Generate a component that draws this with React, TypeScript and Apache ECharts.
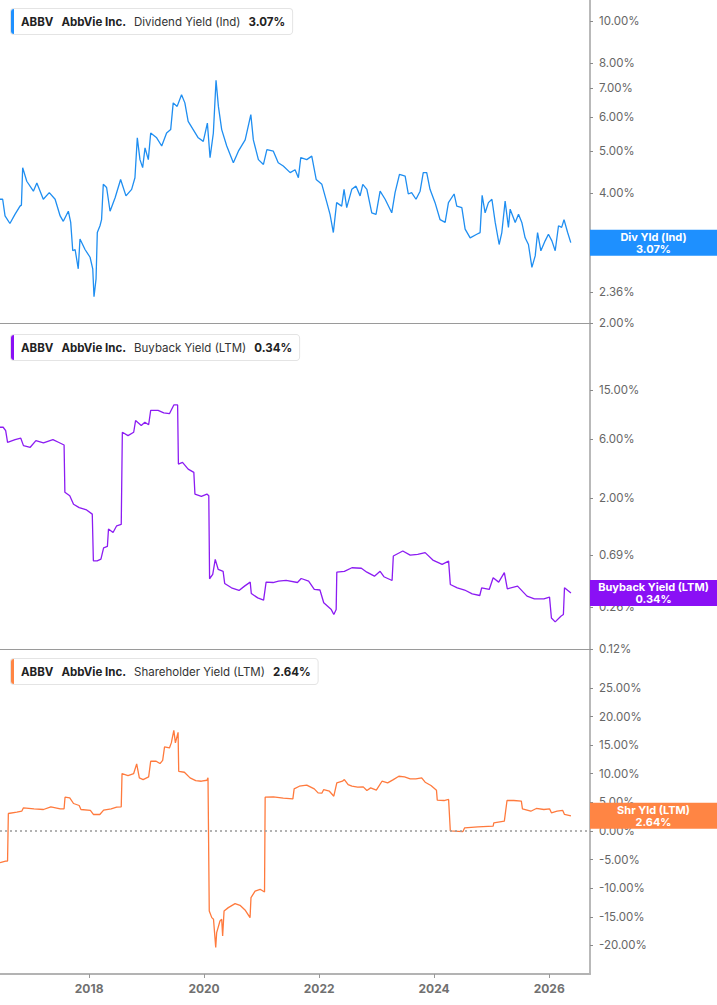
import React, { useEffect, useRef } from 'react';
import * as echarts from 'echarts';

const ticker = 'ABBV';
const company = 'AbbVie Inc.';
const panelTitles = ['Dividend Yield (Ind)', 'Buyback Yield (LTM)', 'Shareholder Yield (LTM)'];
const panelLast = [3.07, 0.34, 2.64];
const endTags = ['Div Yld (Ind)', 'Buyback Yield (LTM)', 'Shr Yld (LTM)'];
const yearTicks = [2018, 2020, 2022, 2024, 2026];
const divTicks = [2, 2.36, 3, 4, 5, 6, 7, 8, 10];
const buybackTicks = [0.12, 0.26, 0.69, 2, 6, 15];
const shrTicks = [-20, -15, -10, -5, 0, 5, 10, 15, 20, 25];

const divYield: [string, number][] = [
  ['2016-06-14', 3.87], ['2016-07-01', 3.87], ['2016-07-16', 3.54], ['2016-08-16', 3.40], ['2016-09-17', 3.57], ['2016-10-19', 3.73], ['2016-10-28', 3.75], ['2016-11-05', 4.58], ['2016-12-01', 4.26], ['2017-01-12', 4.04], ['2017-02-03', 4.22], ['2017-03-16', 3.87], ['2017-04-23', 4.01], ['2017-05-30', 3.87], ['2017-07-01', 3.54], ['2017-07-21', 3.44], ['2017-08-22', 3.63], ['2017-09-06', 3.42], ['2017-09-19', 2.94], ['2017-10-04', 2.96], ['2017-10-24', 2.67], ['2017-11-04', 3.13], ['2017-12-06', 2.96], ['2018-01-07', 2.84], ['2018-01-24', 2.67], ['2018-02-01', 2.30], ['2018-02-14', 2.53], ['2018-02-22', 3.24], ['2018-03-11', 3.36], ['2018-03-21', 3.47], ['2018-04-01', 4.19], ['2018-04-22', 4.12], ['2018-05-14', 3.63], ['2018-06-15', 3.90], ['2018-07-20', 4.30], ['2018-08-23', 3.94], ['2018-09-28', 4.08], ['2018-10-19', 4.34], ['2018-11-03', 5.37], ['2018-11-20', 4.78], ['2018-12-07', 4.58], ['2018-12-22', 5.09], ['2019-01-12', 4.78], ['2019-01-27', 5.51], ['2019-03-06', 5.37], ['2019-04-07', 5.14], ['2019-05-08', 5.51], ['2019-06-03', 5.61], ['2019-06-19', 6.47], ['2019-07-14', 6.35], ['2019-08-11', 6.76], ['2019-09-01', 6.47], ['2019-09-22', 5.86], ['2019-10-24', 5.61], ['2019-11-25', 5.37], ['2019-12-27', 5.27], ['2020-01-22', 5.81], ['2020-02-08', 4.83], ['2020-02-29', 5.51], ['2020-03-17', 7.30], ['2020-04-01', 6.35], ['2020-04-22', 5.61], ['2020-05-24', 5.14], ['2020-07-05', 4.70], ['2020-08-06', 5.00], ['2020-09-18', 5.31], ['2020-10-24', 6.08], ['2020-11-09', 5.31], ['2020-12-11', 4.78], ['2021-01-12', 4.66], ['2021-02-03', 5.04], ['2021-03-16', 5.00], ['2021-04-16', 4.70], ['2021-05-18', 4.62], ['2021-07-01', 4.46], ['2021-08-01', 4.53], ['2021-08-22', 4.34], ['2021-09-06', 4.83], ['2021-10-14', 4.78], ['2021-11-15', 4.87], ['2021-12-13', 4.30], ['2022-01-18', 4.19], ['2022-02-19', 3.80], ['2022-03-11', 3.57], ['2022-04-01', 3.24], ['2022-04-22', 3.80], ['2022-05-24', 3.73], ['2022-06-08', 4.08], ['2022-06-25', 3.70], ['2022-07-27', 4.08], ['2022-08-23', 4.15], ['2022-09-18', 3.94], ['2022-10-05', 4.19], ['2022-10-31', 4.08], ['2022-12-01', 3.60], ['2022-12-28', 3.57], ['2023-01-23', 4.04], ['2023-02-24', 3.87], ['2023-04-07', 3.60], ['2023-04-28', 4.01], ['2023-05-26', 4.42], ['2023-07-01', 4.38], ['2023-07-21', 3.98], ['2023-08-11', 4.01], ['2023-09-08', 3.87], ['2023-10-04', 4.04], ['2023-10-24', 4.46], ['2023-11-15', 4.46], ['2023-12-06', 4.08], ['2024-01-07', 3.80], ['2024-02-08', 3.47], ['2024-03-11', 3.42], ['2024-04-01', 3.80], ['2024-05-07', 3.98], ['2024-05-24', 3.73], ['2024-06-25', 3.70], ['2024-07-16', 3.30], ['2024-08-17', 3.15], ['2024-09-28', 3.21], ['2024-10-19', 3.24], ['2024-11-01', 3.95], ['2024-11-20', 3.60], ['2024-12-11', 3.80], ['2025-01-02', 3.87], ['2025-01-23', 3.42], ['2025-02-17', 3.04], ['2025-03-06', 3.24], ['2025-03-27', 3.83], ['2025-04-17', 3.33], ['2025-04-28', 3.67], ['2025-05-30', 3.42], ['2025-06-20', 3.57], ['2025-07-11', 3.42], ['2025-08-01', 3.15], ['2025-08-22', 3.04], ['2025-09-13', 2.69], ['2025-10-04', 2.86], ['2025-10-19', 3.24], ['2025-11-09', 2.94], ['2025-12-06', 3.10], ['2025-12-27', 3.21], ['2026-01-18', 3.10], ['2026-02-08', 2.94], ['2026-03-01', 3.36], ['2026-03-21', 3.33], ['2026-04-05', 3.47], ['2026-04-28', 3.24], ['2026-05-18', 3.07],
];

const buybackYield: [string, number][] = [
  ['2016-06-14', 7.46], ['2016-07-04', 7.46], ['2016-07-20', 7.01], ['2016-08-01', 5.64], ['2016-09-18', 5.93], ['2016-10-24', 6.08], ['2016-11-10', 5.30], ['2016-12-23', 5.14], ['2017-01-28', 5.81], ['2017-03-17', 5.57], ['2017-05-16', 5.93], ['2017-06-20', 5.64], ['2017-07-26', 5.36], ['2017-07-31', 2.22], ['2017-08-31', 2.08], ['2017-09-24', 1.78], ['2017-10-30', 1.67], ['2017-12-16', 1.60], ['2018-01-21', 1.48], ['2018-01-28', 0.62], ['2018-02-21', 0.62], ['2018-03-17', 0.64], ['2018-04-03', 0.79], ['2018-04-27', 0.81], ['2018-05-04', 1.12], ['2018-06-02', 1.05], ['2018-06-25', 1.19], ['2018-07-24', 1.22], ['2018-07-31', 6.80], ['2018-09-05', 6.39], ['2018-10-11', 6.80], ['2018-10-23', 8.45], ['2018-11-28', 7.70], ['2018-12-21', 8.20], ['2019-01-14', 7.82], ['2019-01-27', 10.2], ['2019-03-15', 10.2], ['2019-04-20', 9.76], ['2019-05-26', 9.6], ['2019-06-23', 11.3], ['2019-07-17', 11.3], ['2019-07-22', 3.76], ['2019-08-17', 3.88], ['2019-09-22', 3.42], ['2019-10-28', 3.22], ['2019-11-04', 2.15], ['2019-12-15', 2.06], ['2020-01-19', 2.15], ['2020-01-31', 2.08], ['2020-02-05', 0.444], ['2020-02-25', 0.481], ['2020-03-12', 0.637], ['2020-03-31', 0.528], ['2020-05-01', 0.51], ['2020-05-11', 0.407], ['2020-06-23', 0.375], ['2020-08-10', 0.357], ['2020-09-14', 0.387], ['2020-10-20', 0.417], ['2020-10-27', 0.337], ['2020-12-07', 0.311], ['2021-01-13', 0.298], ['2021-01-29', 0.417], ['2021-03-14', 0.414], ['2021-04-18', 0.425], ['2021-06-05', 0.43], ['2021-08-16', 0.414], ['2021-09-09', 0.446], ['2021-10-26', 0.425], ['2021-12-01', 0.364], ['2022-01-06', 0.36], ['2022-01-30', 0.284], ['2022-03-19', 0.250], ['2022-04-04', 0.228], ['2022-04-19', 0.250], ['2022-04-23', 0.502], ['2022-06-10', 0.51], ['2022-07-28', 0.545], ['2022-09-26', 0.54], ['2022-10-31', 0.502], ['2022-12-18', 0.466], ['2023-01-23', 0.51], ['2023-02-16', 0.461], ['2023-04-09', 0.43], ['2023-04-17', 0.678], ['2023-06-16', 0.744], ['2023-08-02', 0.69], ['2023-09-19', 0.70], ['2023-11-05', 0.722], ['2023-12-24', 0.629], ['2024-02-21', 0.58], ['2024-04-02', 0.617], ['2024-04-13', 0.399], ['2024-05-27', 0.375], ['2024-07-13', 0.36], ['2024-08-30', 0.335], ['2024-10-17', 0.325], ['2024-10-29', 0.375], ['2024-12-16', 0.364], ['2025-01-10', 0.452], ['2025-02-14', 0.417], ['2025-03-22', 0.497], ['2025-04-10', 0.368], ['2025-06-14', 0.387], ['2025-08-13', 0.321], ['2025-09-29', 0.305], ['2025-11-28', 0.305], ['2026-01-03', 0.315], ['2026-01-15', 0.214], ['2026-02-08', 0.199], ['2026-03-16', 0.221], ['2026-04-01', 0.228], ['2026-04-08', 0.375], ['2026-05-19', 0.34],
];

const shareholderYield: [string, number][] = [
  ['2016-06-14', -5.55], ['2016-07-20', -5.27], ['2016-08-01', -5.27], ['2016-08-06', 3.05], ['2016-09-29', 3.28], ['2016-10-30', 3.45], ['2016-11-10', 4.05], ['2017-01-16', 3.87], ['2017-03-17', 3.75], ['2017-05-03', 4.22], ['2017-07-02', 3.87], ['2017-07-26', 3.87], ['2017-08-01', 5.90], ['2017-08-31', 5.79], ['2017-09-24', 4.80], ['2017-10-30', 4.45], ['2017-11-10', 3.75], ['2018-01-09', 3.58], ['2018-01-28', 2.88], ['2018-03-10', 2.88], ['2018-04-03', 3.63], ['2018-05-21', 3.87], ['2018-06-25', 4.15], ['2018-07-24', 4.22], ['2018-07-29', 10.03], ['2018-09-05', 9.68], ['2018-10-11', 10.03], ['2018-10-30', 11.72], ['2018-11-16', 9.28], ['2018-12-10', 8.98], ['2019-01-14', 9.45], ['2019-01-27', 12.18], ['2019-03-03', 12.18], ['2019-03-27', 11.78], ['2019-04-13', 12.35], ['2019-04-25', 14.69], ['2019-05-26', 14.51], ['2019-06-07', 15.39], ['2019-06-23', 17.59], ['2019-07-03', 15.39], ['2019-07-20', 17.24], ['2019-07-24', 10.43], ['2019-08-29', 10.26], ['2019-10-04', 9.28], ['2019-11-09', 8.81], ['2019-12-15', 8.69], ['2020-01-19', 8.86], ['2020-01-26', 9.28], ['2020-02-03', -14.0], ['2020-02-19', -15.15], ['2020-03-01', -15.44], ['2020-03-15', -20.38], ['2020-03-21', -17.76], ['2020-04-11', -15.74], ['2020-04-22', -15.44], ['2020-04-28', -18.35], ['2020-05-07', -14.0], ['2020-06-03', -13.4], ['2020-07-16', -12.7], ['2020-08-16', -13.0], ['2020-09-17', -13.8], ['2020-10-19', -15.15], ['2020-10-25', -11.65], ['2020-11-20', -10.5], ['2020-12-22', -10.2], ['2021-01-19', -10.67], ['2021-01-23', 5.90], ['2021-03-16', 5.95], ['2021-05-18', 5.72], ['2021-07-18', 5.61], ['2021-07-26', 7.36], ['2021-08-28', 7.82], ['2021-10-14', 8.0], ['2021-12-01', 7.36], ['2021-12-25', 6.66], ['2022-01-18', 6.6], ['2022-01-30', 7.24], ['2022-03-07', 6.94], ['2022-04-04', 6.07], ['2022-04-23', 8.41], ['2022-05-29', 8.69], ['2022-06-10', 8.98], ['2022-07-04', 8.11], ['2022-07-28', 7.82], ['2022-09-02', 7.65], ['2022-10-08', 7.7], ['2022-10-31', 7.07], ['2022-11-24', 7.53], ['2022-12-30', 7.12], ['2023-02-04', 8.69], ['2023-03-12', 8.41], ['2023-04-17', 8.98], ['2023-05-22', 9.56], ['2023-06-27', 9.45], ['2023-08-02', 9.10], ['2023-09-07', 9.10], ['2023-10-14', 9.28], ['2023-11-05', 8.52], ['2023-12-12', 7.94], ['2024-01-16', 7.12], ['2024-01-21', 5.38], ['2024-03-04', 5.32], ['2024-04-02', 5.50], ['2024-04-13', 0.0], ['2024-07-02', -0.1], ['2024-07-13', 0.55], ['2024-10-05', 0.73], ['2025-01-10', 0.84], ['2025-01-14', 1.43], ['2025-03-22', 1.71], ['2025-04-08', 5.32], ['2025-05-21', 5.32], ['2025-07-08', 5.20], ['2025-07-15', 3.87], ['2025-09-06', 3.45], ['2025-10-11', 3.93], ['2025-11-28', 3.75], ['2026-01-03', 3.87], ['2026-01-15', 3.17], ['2026-02-20', 3.45], ['2026-03-28', 3.58], ['2026-04-08', 2.88], ['2026-05-19', 2.64],
];

const lineColors = ['#1f8ef1', '#8c1cf2', '#ff7a3d'];
const tagColors = ['#1e90ff', '#8a10f5', '#ff8544'];

const FONT = 'Inter, "Noto Sans", sans-serif';
const RIGHT = 127;
const grids = [
  { top: 0, height: 323 },
  { top: 323, height: 326 },
  { top: 649, height: 325 },
];
const headerTops = [8, 334, 658];

const toTime = (s: string) => {
  const [y, m, d] = s.split('-').map(Number);
  return new Date(y, m - 1, d).getTime();
};

export default function App() {
  const ref = useRef<HTMLDivElement>(null);
  useEffect(() => {
    if (!ref.current) return;
    const chart = echarts.init(ref.current, undefined, { renderer: 'svg' });
    const xMin = new Date(2016, 5, 14).getTime();
    const xMax = new Date(2026, 8, 17).getTime();
    const xTickVals = yearTicks.map((y) => new Date(y, 0, 1).getTime());
    const pct = (v: number) => v.toFixed(2) + '%';

    const yCommon = (i: number) => ({
      gridIndex: i,
      position: 'right',
      axisLine: { show: true, onZero: false, lineStyle: { color: '#b9b9b9', width: 2 } },
      axisTick: { show: true, length: 3, lineStyle: { color: '#8a8a8a' } },
      axisLabel: { color: '#666', fontSize: 11.5, margin: 9, fontFamily: FONT, formatter: pct },
      splitLine: { show: false },
    });
    const yAxes = [
      { ...yCommon(0), type: 'log', logBase: 10, min: 2, max: 11.2,
        axisTick: { ...yCommon(0).axisTick, customValues: divTicks },
        axisLabel: { ...yCommon(0).axisLabel, customValues: divTicks } },
      { ...yCommon(1), type: 'log', logBase: 10, min: 0.12, max: 52,
        axisTick: { ...yCommon(1).axisTick, customValues: buybackTicks },
        axisLabel: { ...yCommon(1).axisLabel, customValues: buybackTicks } },
      { ...yCommon(2), type: 'value', min: -25, max: 31.8,
        axisTick: { ...yCommon(2).axisTick, customValues: shrTicks },
        axisLabel: { ...yCommon(2).axisLabel, customValues: shrTicks } },
    ];

    const xAxes = [0, 1, 2].map((i) => ({
      type: 'value',
      gridIndex: i,
      min: xMin,
      max: xMax,
      axisLine: { show: true, onZero: false, lineStyle: { color: i === 2 ? '#b3b3b3' : '#9a9a9a', width: i === 2 ? 2 : 1 } },
      axisTick: { show: i === 2, length: 4, customValues: xTickVals, lineStyle: { color: '#999' } },
      axisLabel: {
        show: i === 2,
        customValues: xTickVals,
        formatter: (v: number) => String(new Date(v).getFullYear()),
        color: '#707070',
        fontWeight: 'bold',
        fontSize: 12,
        margin: 8,
        fontFamily: FONT,
      },
      splitLine: { show: false },
    }));

    const seriesData = [divYield, buybackYield, shareholderYield];
    const series = seriesData.map((d, i) => {
      const tagItem: any = {
        yAxis: panelLast[i],
        label: {
          show: true,
          position: 'end',
          distance: 0,
          formatter: `{a|${endTags[i]}}\n{a|${panelLast[i].toFixed(2)}%}`,
          backgroundColor: tagColors[i],
          padding: [1, 0, 1, 0],
          rich: {
            a: { width: RIGHT, align: 'center', color: '#fff', fontWeight: 'bold', fontSize: 11, lineHeight: 12, fontFamily: FONT },
          },
        },
      };
      const mlData: any[] = [tagItem];
      if (i === 2) {
        mlData.push({
          yAxis: 0,
          label: { show: false },
          lineStyle: { type: [2, 3], color: '#999', width: 1.5, opacity: 1 },
        });
      }
      return {
        type: 'line',
        xAxisIndex: i,
        yAxisIndex: i,
        data: d.map(([s, v]) => [toTime(s), v]),
        showSymbol: false,
        symbol: 'none',
        lineStyle: { color: lineColors[i], width: 1.3 },
        itemStyle: { color: lineColors[i] },
        silent: true,
        markLine: {
          symbol: 'none',
          silent: true,
          animation: false,
          lineStyle: { width: 0, color: 'rgba(0,0,0,0)' },
          data: mlData,
        },
      };
    });

    const graphics: any[] = [];
    [0, 1, 2].forEach((i) => {
      graphics.push({
        type: 'group',
        left: 10,
        top: headerTops[i],
        z: 100,
        children: [
          {
            type: 'text',
            x: 0,
            y: 0,
            style: {
              text: `{b|${ticker}}{g| }{b|${company}}{g| }{n|${panelTitles[i]}}{g| }{b|${panelLast[i].toFixed(2)}%}`,
              rich: {
                b: { fontWeight: 'bold', fontSize: 11.5, fill: '#222', fontFamily: FONT, lineHeight: 13 },
                n: { fontSize: 11.5, fill: '#333', fontFamily: FONT, lineHeight: 13 },
                g: { width: 8, fontSize: 11.5, lineHeight: 13 },
              },
              backgroundColor: '#fff',
              borderColor: '#e4e4e4',
              borderWidth: 1,
              borderRadius: 3,
              padding: [6, 7, 6, 10],
            },
          },
          { type: 'rect', shape: { x: 0, y: 0, width: 3, height: 25, r: [3, 0, 0, 3] }, style: { fill: tagColors[i] } },
        ],
      });
    });

    chart.setOption({
      animation: false,
      backgroundColor: '#fff',
      textStyle: { fontFamily: FONT },
      grid: grids.map((g) => ({ left: 0, right: RIGHT, top: g.top, height: g.height })),
      xAxis: xAxes,
      yAxis: yAxes,
      series,
      graphic: graphics,
    });
    return () => chart.dispose();
  }, []);
  return <div ref={ref} style={{ position: 'absolute', left: 0, top: 0, width: 717, height: 1005 }} />;
}
